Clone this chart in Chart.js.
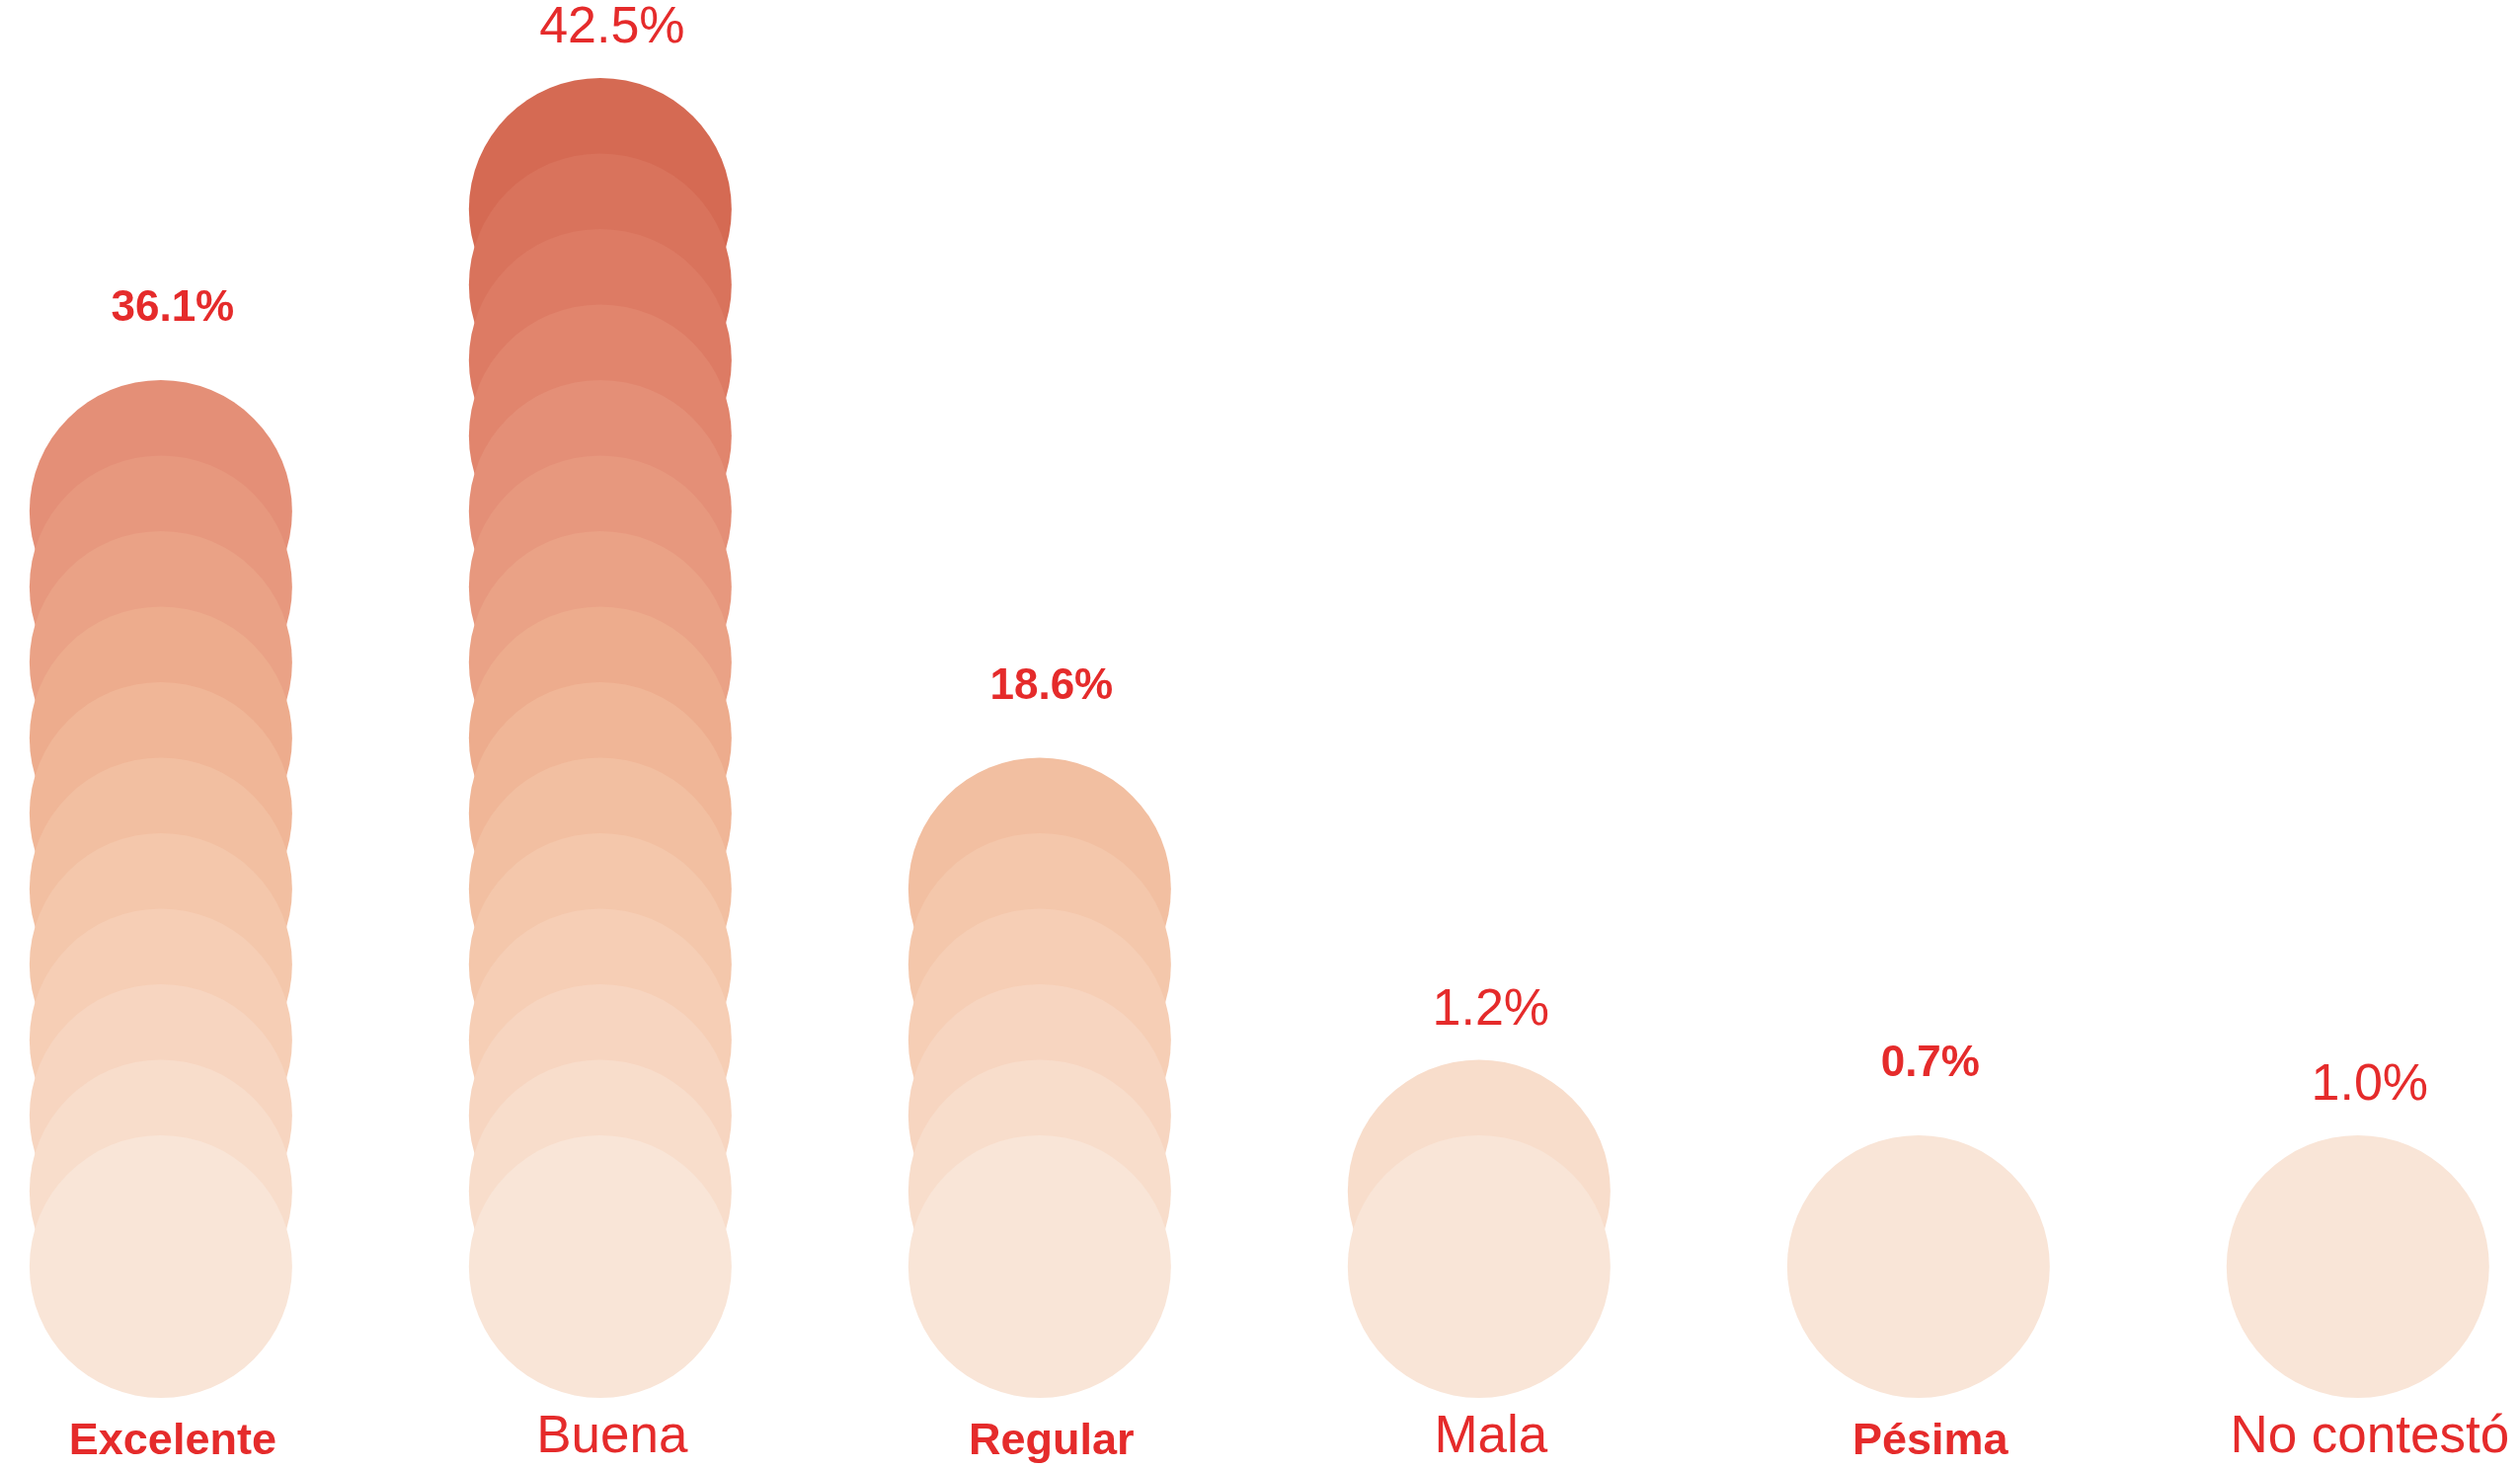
<!DOCTYPE html>
<html>
<head>
<meta charset="utf-8">
<script src="https://cdn.jsdelivr.net/npm/chart.js@4.4.1/dist/chart.umd.min.js"></script>
<style>
  html, body { margin: 0; padding: 0; background: #fff; }
  #wrap { width: 2552px; height: 1487px; position: relative; }
</style>
</head>
<body>
<div id="wrap"><canvas id="chart"></canvas></div>
<script>
// categories and values
const categories = ["Excelente", "Buena", "Regular", "Mala", "Pésima", "No contestó"];
const percents = [36.1, 42.5, 18.6, 1.2, 0.7, 1.0];
// number of stacked circles drawn in each column
const circleCounts = [11, 15, 6, 2, 1, 1];

// one colour per stack level, bottom (lightest) to top (darkest)
const levelColors = [
  "#F9E5D7", "#F8DDCB", "#F7D5C0", "#F6CEB5", "#F4C7AB",
  "#F2BFA1", "#F0B697", "#EDAC8D", "#EAA286", "#E7987E",
  "#E48F77", "#E1856D", "#DD7B64", "#D9735C", "#D56A53"
];

const RADIUS = 133;
const RED = "#E52B2B";
const maxLevel = Math.max(...circleCounts);

// one dataset per level; dataset 0 (bottom) is drawn last so lower circles sit on top
const datasets = [];
for (let level = 0; level < maxLevel; level++) {
  const pts = [];
  circleCounts.forEach((n, i) => {
    if (n > level) pts.push({ x: i, y: level });
  });
  datasets.push({
    data: pts,
    backgroundColor: levelColors[level],
    borderWidth: 0,
    pointRadius: RADIUS,
    pointHoverRadius: RADIUS,
    pointBorderWidth: 0,
    clip: false
  });
}

const labelPlugin = {
  id: "columnLabels",
  afterDatasetsDraw(chart) {
    const { ctx, scales: { x, y } } = chart;
    ctx.save();
    ctx.fillStyle = RED;
    ctx.textAlign = "center";
    ctx.textBaseline = "middle";
    categories.forEach((name, i) => {
      const bold = i % 2 === 0;
      const cx = x.getPixelForValue(i) + 12;
      const topEdge = y.getPixelForValue(circleCounts[i] - 1) - RADIUS;
      ctx.font = bold ? "bold 44px 'Liberation Sans', Arial, sans-serif"
                      : "52px 'Liberation Sans', Arial, sans-serif";
      ctx.fillText(percents[i].toFixed(1) + "%", cx, topEdge - (bold ? 72 : 50));
      ctx.font = bold ? "bold 45px 'Liberation Sans', Arial, sans-serif"
                      : "53px 'Liberation Sans', Arial, sans-serif";
      ctx.fillText(name, cx, y.getPixelForValue(0) + (bold ? 178 : 173));
    });
    ctx.restore();
  }
};

new Chart(document.getElementById("chart"), {
  type: "scatter",
  data: { datasets },
  options: {
    responsive: true,
    maintainAspectRatio: false,
    animation: false,
    events: [],
    layout: { padding: 0, autoPadding: false },
    plugins: { legend: { display: false }, tooltip: { enabled: false } },
    scales: {
      x: { type: "linear", display: false, min: -0.366, max: 5.369 },
      y: { type: "linear", display: false, min: -2.667, max: 16.77 }
    }
  },
  plugins: [labelPlugin]
});
</script>
</body>
</html>
